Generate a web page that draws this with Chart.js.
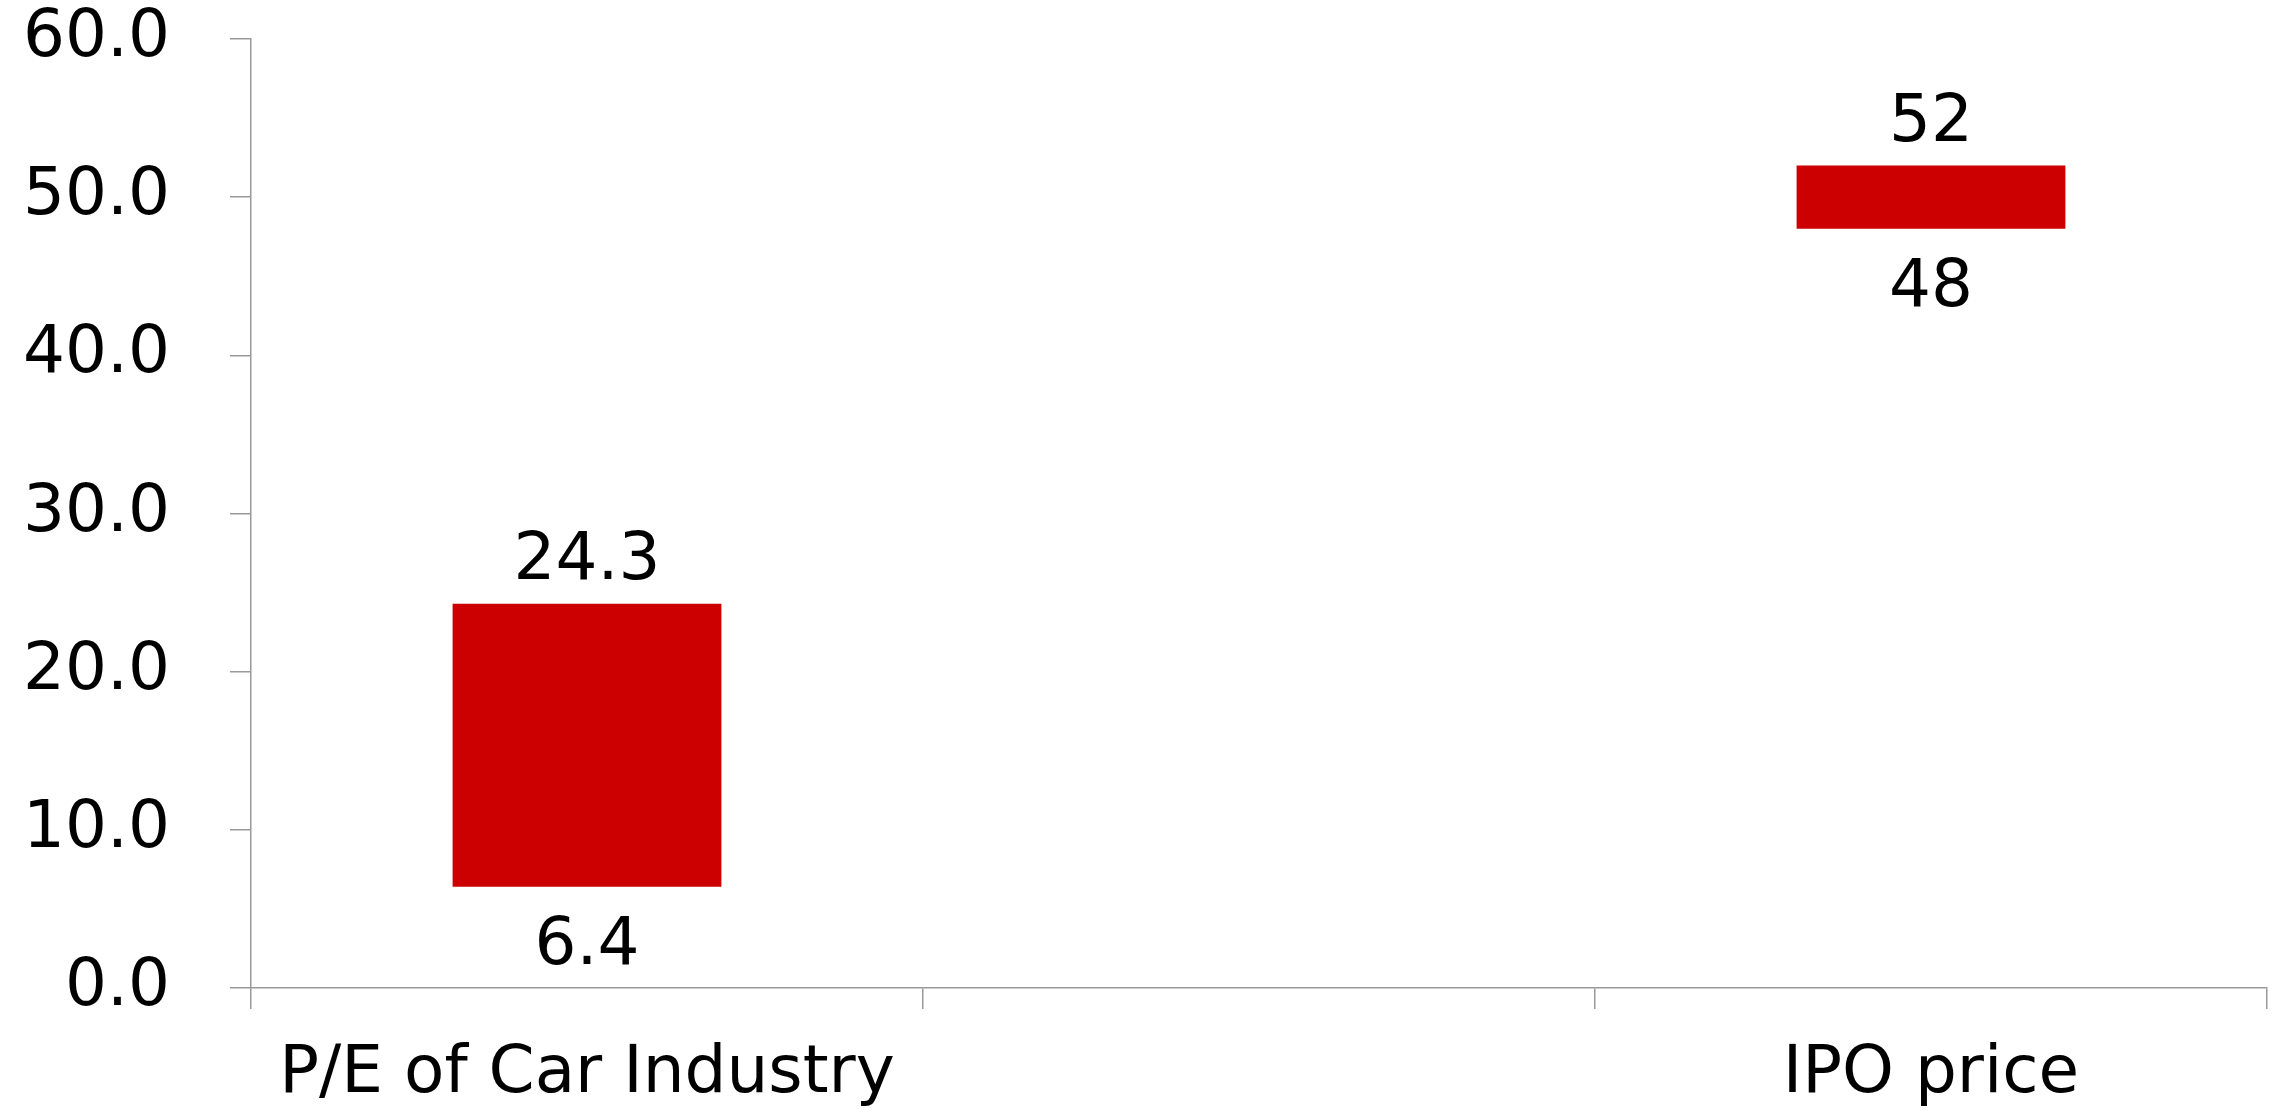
<!DOCTYPE html>
<html>
<head>
<meta charset="utf-8">
<script src="https://cdn.jsdelivr.net/npm/chart.js@4"></script>
<style>
  html, body { margin: 0; padding: 0; background: #ffffff; }
  #wrap { width: 2293px; height: 1118px; }
</style>
</head>
<body>
<div id="wrap"><canvas id="myChart"></canvas></div>
<script>
// categories (middle slot is empty in the original)
const categories = ["P/E of Car Industry", "", "IPO price"];
// floating bars: low and high ends
const lowValues = [6.4, null, 48];
const highValues = [24.3, null, 52];
// y axis ticks
const yTicks = [0, 10, 20, 30, 40, 50, 60];

const BAR_RED = '#cc0000';
const AXIS_GREY = '#999999';
const FONT = "'DejaVu Sans', Verdana, sans-serif";

const ranges = categories.map((c, i) =>
  lowValues[i] == null ? null : [lowValues[i], highValues[i]]);

// draws the value above and below each bar
const endLabels = {
  id: 'endLabels',
  afterDatasetsDraw(chart) {
    const ctx = chart.ctx;
    const meta = chart.getDatasetMeta(0);
    ctx.save();
    ctx.font = '66px ' + FONT;
    ctx.fillStyle = '#000000';
    ctx.textAlign = 'center';
    ctx.textBaseline = 'alphabetic';
    meta.data.forEach((bar, i) => {
      if (ranges[i] == null) return;
      const top = Math.min(bar.y, bar.base);
      const bottom = Math.max(bar.y, bar.base);
      ctx.fillText(String(highValues[i]), bar.x, top - 25);
      ctx.fillText(String(lowValues[i]), bar.x, bottom + 77);
    });
    ctx.restore();
  }
};

const data = {
  labels: categories,
  datasets: [{
    data: ranges,
    backgroundColor: BAR_RED,
    borderWidth: 0,
    barPercentage: 1.0,
    categoryPercentage: 0.4
  }]
};

const config = {
  type: 'bar',
  data: data,
  options: {
    responsive: true,
    maintainAspectRatio: false,
    animation: false,
    layout: {
      padding: { left: 0, right: 26, top: 39, bottom: 0 }
    },
    plugins: {
      legend: { display: false },
      tooltip: { enabled: false }
    },
    scales: {
      x: {
        grid: {
          offset: true,
          drawOnChartArea: false,
          drawTicks: true,
          tickLength: 21,
          color: AXIS_GREY,
          lineWidth: 1.5
        },
        border: { display: true, color: AXIS_GREY, width: 1.5 },
        ticks: {
          color: '#000000',
          font: { family: FONT, size: 66 },
          padding: 26,
          maxRotation: 0,
          autoSkip: false
        },
        afterFit(scale) { scale.height = 130; }
      },
      y: {
        min: yTicks[0],
        max: yTicks[yTicks.length - 1],
        grid: {
          drawOnChartArea: false,
          drawTicks: true,
          tickLength: 21,
          color: AXIS_GREY,
          lineWidth: 1.5
        },
        border: { display: true, color: AXIS_GREY, width: 1.5 },
        afterBuildTicks(scale) {
          scale.ticks = yTicks.map(v => ({ value: v }));
        },
        ticks: {
          color: '#000000',
          font: { family: FONT, size: 66 },
          padding: 60,
          callback: v => Number(v).toFixed(1)
        },
        afterFit(scale) {
          scale.width = 251;
          // tick padding would otherwise push the plot area down
          scale.paddingTop = 0;
          scale.paddingBottom = 0;
        }
      }
    }
  },
  plugins: [endLabels]
};

const myChart = new Chart(document.getElementById('myChart'), config);
</script>
</body>
</html>
